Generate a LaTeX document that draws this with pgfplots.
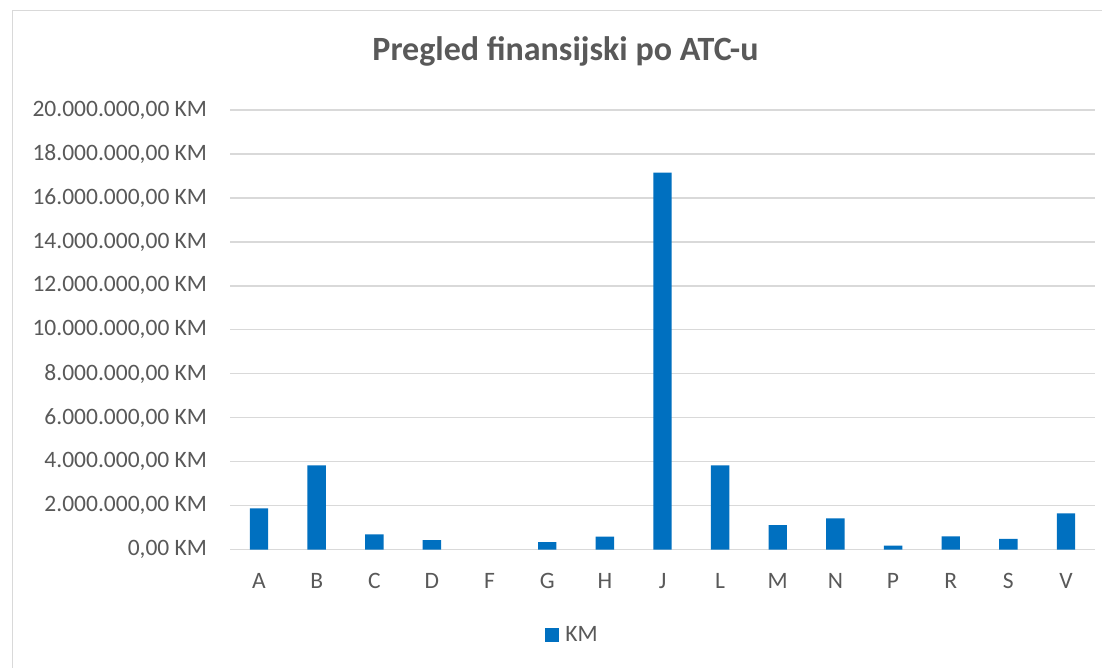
\documentclass[border=0pt]{standalone}
\usepackage{pgfplots}
\pgfplotsset{compat=1.18}
\usepackage{fontspec}
\setmainfont{Carlito}
\definecolor{barblue}{HTML}{0070C0}
\definecolor{txtgray}{HTML}{595959}
\definecolor{gridgray}{HTML}{D9D9D9}
\begin{document}
\begin{tikzpicture}
\path[use as bounding box] (0,0) rectangle (1102bp,668bp);
\fill[white] (0,0) rectangle (1102bp,668bp);
\draw[gridgray, line width=1.5bp] (12.5bp,-2bp) -- (12.5bp,657.3bp) -- (1104bp,657.3bp);
\node[anchor=base, text=txtgray, font=\fontsize{34bp}{40bp}\selectfont\bfseries] at (565.5bp,607.3bp) {Pregled finansijski po ATC-u};
\begin{axis}[
  at={(230.2bp,118.3bp)}, anchor=south west,
  scale only axis, width=864.6bp, height=439.7bp,
  xmin=-0.5, xmax=14.5, ymin=0, ymax=20000000,
  scaled y ticks=false,
  ybar, bar width=18.4bp,
  axis line style={draw=none},
  major tick length=0pt,
  ymajorgrids, grid style={gridgray, line width=1.3bp},
  xtick={0,...,14},
  xticklabels={A,B,C,D,F,G,H,J,L,M,N,P,R,S,V},
  ytick={0,2000000,4000000,6000000,8000000,10000000,12000000,14000000,16000000,18000000,20000000},
  yticklabels={{0,00 KM},{2.000.000,00 KM},{4.000.000,00 KM},{6.000.000,00 KM},{8.000.000,00 KM},{10.000.000,00 KM},{12.000.000,00 KM},{14.000.000,00 KM},{16.000.000,00 KM},{18.000.000,00 KM},{20.000.000,00 KM}},
  ticklabel style={text=txtgray, font=\fontsize{23.5bp}{28bp}\selectfont, inner sep=0pt},
  yticklabel style={anchor=east, xshift=-23bp},
  xticklabel style={anchor=base, yshift=-39.3bp},
  legend style={at={(0.396,-0.194)}, anchor=center, draw=none, fill=none,
    font=\fontsize{23.5bp}{28bp}\selectfont, text=txtgray,
    legend cell align=left, /tikz/every even column/.append style={column sep=5bp}},
  legend image code/.code={\fill[barblue] (0bp,-7bp) rectangle (14bp,7bp);},
]
\addplot[fill=barblue, draw=none] coordinates {
(0,1880000) (1,3840000) (2,700000) (3,430000) (5,350000) (6,590000)
(7,17150000) (8,3840000) (9,1120000) (10,1430000) (11,180000) (12,610000)
(13,490000) (14,1650000)};
\addlegendentry{\hspace{4bp}KM}
\end{axis}
\end{tikzpicture}
\end{document}
